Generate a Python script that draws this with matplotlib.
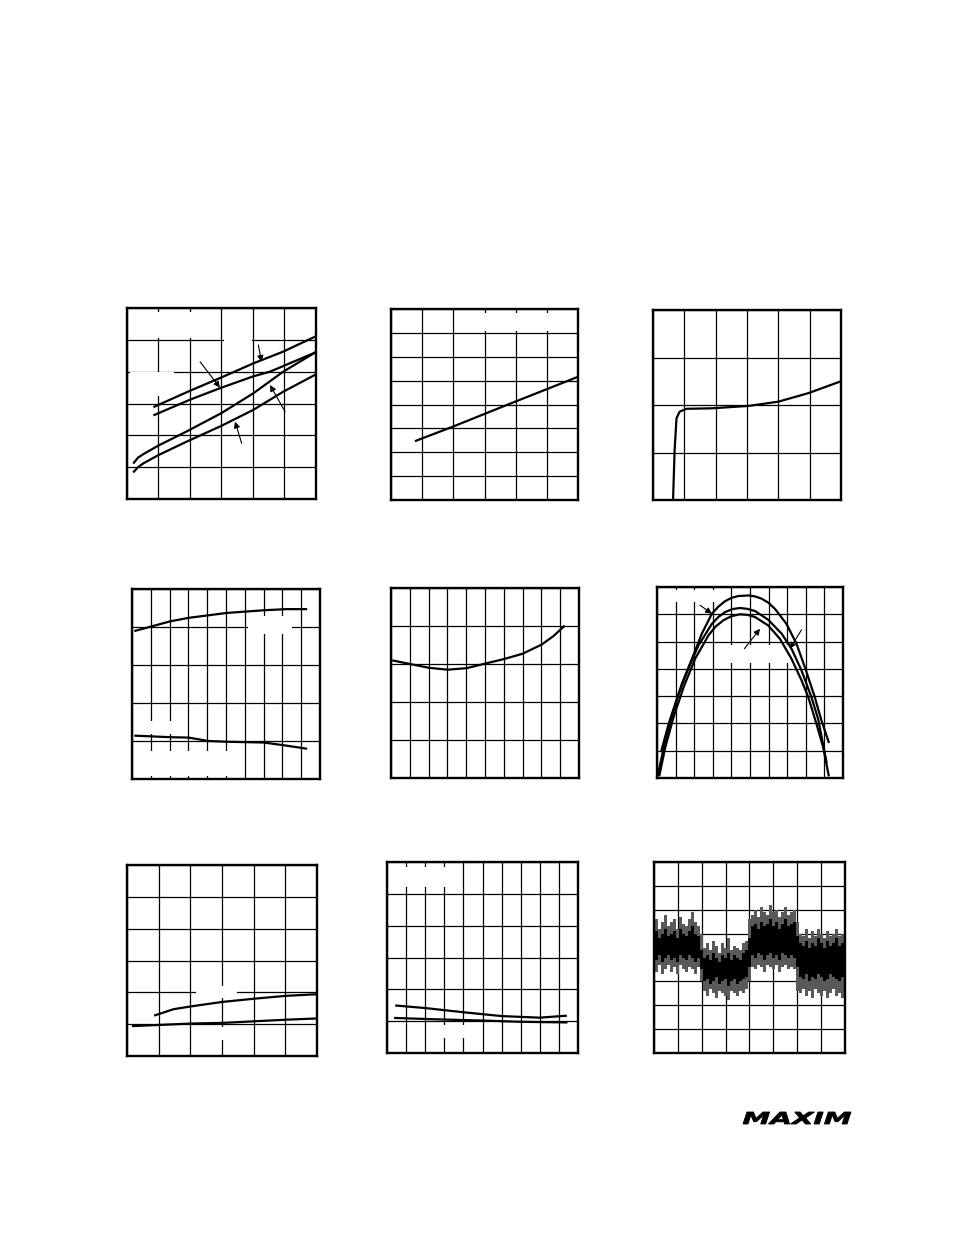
import matplotlib
matplotlib.use("Agg")
import numpy as np
import matplotlib.pyplot as plt
from matplotlib.patches import Rectangle, PathPatch
from matplotlib.textpath import TextPath
from matplotlib.font_manager import FontProperties
from matplotlib.transforms import Affine2D

W, H = 954, 1235

# ---- data (grid-division units, origin at lower left of each plot) ----
# plot 1: four rising curves
p1_xa = [0.87, 2.0, 3.0, 4.01, 4.96, 5.97]
p1_ya = [2.90, 3.40, 3.82, 4.26, 4.63, 5.10]
p1_xb = [0.87, 2.0, 2.95, 4.0, 4.54, 5.97]
p1_yb = [2.64, 3.12, 3.48, 3.85, 4.00, 4.60]
p1_xc = [0.22, 0.35, 0.52, 1.0, 1.89, 3.0, 4.01, 4.96, 5.97]
p1_yc = [1.14, 1.30, 1.41, 1.68, 2.12, 2.70, 3.32, 4.00, 4.60]
p1_xd = [0.22, 0.35, 0.52, 1.0, 1.89, 3.0, 4.01, 4.96, 5.97]
p1_yd = [0.86, 1.00, 1.12, 1.38, 1.80, 2.30, 2.80, 3.37, 3.90]

# plot 2: single straight-ish line
p2_x = [0.8, 2.0, 3.6, 6.0]
p2_y = [2.48, 3.08, 3.92, 5.16]

# plot 3: knee curve
p3_x = [0.64, 0.69, 0.75, 0.85, 1.07, 1.87, 3.04, 4.0, 4.96, 6.0]
p3_y = [0.0, 1.05, 1.72, 1.86, 1.92, 1.93, 1.98, 2.07, 2.25, 2.50]

# plot 4: upper and lower curves
p4_x_up = [0.18, 2.04, 3.0, 5.04, 7.0, 8.2, 9.26]
p4_y_up = [3.90, 4.15, 4.24, 4.37, 4.44, 4.47, 4.47]
p4_x_lo = [0.18, 2.04, 3.0, 4.07, 5.04, 7.0, 8.05, 9.26]
p4_y_lo = [1.14, 1.10, 1.09, 1.00, 0.98, 0.96, 0.89, 0.80]

# plot 5: shallow bowl
p5_x = [0.12, 1.01, 2.02, 3.01, 4.02, 5.0, 6.01, 7.0, 8.01, 8.63, 9.2]
p5_y = [3.09, 3.00, 2.90, 2.85, 2.89, 3.01, 3.13, 3.27, 3.51, 3.73, 3.99]

# plot 6: three arches
p6_x1 = [0.05, 0.45, 0.84, 1.34, 1.88, 2.41, 2.95, 3.30, 3.66, 4.0, 4.38, 4.95,
         5.30, 5.63, 6.0, 6.34, 6.96, 7.5, 7.98, 8.48, 8.84, 9.23]
p6_y1 = [0.13, 1.38, 2.36, 3.46, 4.37, 5.29, 6.02, 6.28, 6.48, 6.60, 6.67, 6.69,
         6.65, 6.57, 6.42, 6.20, 5.65, 4.92, 4.00, 2.97, 2.11, 1.32]
p6_x2 = [0.23, 0.63, 1.16, 1.70, 2.23, 2.95, 3.30, 3.66, 4.05, 4.46, 4.85, 5.27,
         5.98, 6.70, 7.23, 7.77, 8.30, 8.66, 9.11]
p6_y2 = [0.99, 1.99, 3.09, 4.04, 4.86, 5.65, 5.90, 6.08, 6.19, 6.23, 6.20, 6.12,
         5.80, 5.29, 4.74, 3.94, 2.97, 2.17, 0.59]
p6_x3 = [0.13, 0.45, 0.89, 1.43, 2.05, 2.77, 3.15, 3.57, 4.0, 4.46, 4.85, 5.27,
         5.98, 6.61, 7.23, 7.77, 8.13, 8.57, 8.93, 9.23]
p6_y3 = [0.10, 1.14, 2.23, 3.33, 4.37, 5.23, 5.55, 5.78, 5.93, 6.00, 5.98, 5.90,
         5.59, 5.10, 4.37, 3.58, 2.97, 1.99, 1.14, 0.10]

# plot 7: two slowly rising curves
p7_x_up = [0.89, 1.47, 2.03, 3.02, 4.02, 5.02, 6.0]
p7_y_up = [1.28, 1.47, 1.56, 1.70, 1.80, 1.89, 1.94]
p7_x_lo = [0.19, 2.03, 3.02, 4.02, 5.02, 6.0]
p7_y_lo = [0.94, 1.02, 1.04, 1.09, 1.14, 1.18]

# plot 8: two nearly flat curves
p8_x_up = [0.49, 2.03, 4.0, 6.0, 8.0, 9.36]
p8_y_up = [1.49, 1.41, 1.28, 1.16, 1.11, 1.17]
p8_x_lo = [0.43, 3.0, 4.99, 6.99, 9.39]
p8_y_lo = [1.10, 1.05, 1.02, 0.98, 0.96]

# plot 9: noise trace, time base in divisions, envelopes read from scope shot
p9_t = np.linspace(0, 8, 65)
p9_core_hi = [4.9, 5.1, 4.8, 5.0, 5.2, 4.9, 5.0, 5.1, 4.8, 5.2, 5.0, 4.9, 5.1, 5.3, 5.0, 4.9,
              4.3,
              4.0, 4.1, 3.9, 4.2, 4.0, 3.8, 4.1, 4.0, 4.2, 3.9, 4.1, 4.0, 3.9, 4.2, 4.3,
              4.8,
              5.3, 5.4, 5.2, 5.5, 5.3, 5.4, 5.6, 5.3, 5.5, 5.2, 5.4, 5.6, 5.3, 5.4, 5.5,
              4.9,
              4.6, 4.5, 4.7, 4.4, 4.6, 4.5, 4.8, 4.6, 4.4, 4.7, 4.5, 4.6, 4.8, 4.5, 4.6, 4.7]
p9_core_lo = [4.0, 3.9, 4.1, 3.8, 4.0, 4.1, 3.9, 4.0, 3.8, 4.1, 4.0, 3.9, 4.1, 4.0, 3.8, 4.0,
              3.5,
              3.0, 3.1, 2.9, 3.0, 3.2, 2.9, 3.0, 3.1, 2.8, 3.0, 3.1, 2.9, 3.0, 3.1, 3.2,
              3.6,
              4.1, 4.0, 4.2, 4.1, 3.9, 4.1, 4.2, 4.0, 4.1, 3.9, 4.2, 4.1, 4.0, 4.1, 4.0,
              3.6,
              3.2, 3.1, 3.3, 3.0, 3.2, 3.1, 3.3, 3.2, 3.0, 3.1, 3.3, 3.2, 3.1, 3.0, 3.2, 3.1]
p9_peak_hi = [5.4, 5.6, 5.2, 5.5, 5.8, 5.3, 5.5, 5.6, 5.2, 5.7, 5.4, 5.3, 5.6, 5.9, 5.5, 5.3,
              5.0,
              4.4, 4.6, 4.3, 4.7, 4.5, 4.2, 4.6, 4.4, 4.8, 4.3, 4.5, 4.4, 4.3, 4.6, 4.7,
              5.6,
              5.8, 6.0, 5.7, 6.1, 5.9, 5.8, 6.2, 5.9, 6.0, 5.7, 5.9, 6.1, 5.8, 5.9, 6.0,
              5.5,
              5.0, 4.9, 5.2, 4.8, 5.1, 4.9, 5.2, 5.0, 4.8, 5.1, 4.9, 5.0, 5.2, 4.9, 5.0, 5.1]
p9_peak_lo = [3.6, 3.4, 3.7, 3.3, 3.5, 3.7, 3.4, 3.6, 3.3, 3.7, 3.5, 3.4, 3.6, 3.5, 3.3, 3.6,
              3.0,
              2.6, 2.4, 2.7, 2.5, 2.3, 2.6, 2.5, 2.4, 2.2, 2.6, 2.5, 2.4, 2.6, 2.5, 2.7,
              3.0,
              3.6, 3.5, 3.7, 3.6, 3.4, 3.7, 3.6, 3.5, 3.7, 3.4, 3.6, 3.7, 3.5, 3.6, 3.5,
              2.6,
              2.5, 2.7, 2.4, 2.6, 2.3, 2.7, 2.5, 2.4, 2.6, 2.3, 2.5, 2.7, 2.4, 2.5, 2.3, 2.4]

fig = plt.figure(figsize=(W / 100, H / 100), dpi=100)


def make_ax(box, nx, ny):
    x0, y0, x1, y1 = box
    ax = fig.add_axes([x0 / W, 1 - y1 / H, (x1 - x0) / W, (y1 - y0) / H])
    ax.set_xlim(0, nx)
    ax.set_ylim(0, ny)
    ax.set_xticks(range(nx + 1))
    ax.set_yticks(range(ny + 1))
    ax.grid(True, color="black", lw=0.9)
    ax.set_axisbelow(True)
    ax.tick_params(length=0, labelbottom=False, labelleft=False)
    for s in ax.spines.values():
        s.set_linewidth(1.7)
    return ax


def blank(ax, box):
    # white label areas that break the grid
    x0, y0, x1, y1 = box
    ax.add_patch(Rectangle((x0 / W, 1 - y1 / H), (x1 - x0) / W, (y1 - y0) / H,
                           transform=fig.transFigure, fc="white", ec="none", zorder=1))


def arrow(ax, tail, head):
    ax.annotate("", xy=head, xytext=tail,
                arrowprops=dict(arrowstyle="-|>", color="black", lw=0.8,
                                mutation_scale=9, shrinkA=0, shrinkB=0))


LW = 1.6

# row 1
ax1 = make_ax((127, 308, 316, 499), 6, 6)
for xs, ys in [(p1_xa, p1_ya), (p1_xb, p1_yb), (p1_xc, p1_yc), (p1_xd, p1_yd)]:
    ax1.plot(xs, ys, color="black", lw=LW)
arrow(ax1, (4.17, 4.84), (4.27, 4.31))
arrow(ax1, (2.32, 4.31), (2.95, 3.50))
arrow(ax1, (5.02, 2.74), (4.54, 3.58))
arrow(ax1, (3.64, 1.75), (3.43, 2.43))
blank(ax1, (130, 312, 220, 338))
blank(ax1, (130, 372, 174, 396))
blank(ax1, (224, 330, 252, 352))

ax2 = make_ax((391, 309, 578, 500), 6, 8)
ax2.plot(p2_x, p2_y, color="black", lw=LW)
blank(ax2, (456, 313, 576, 331))

ax3 = make_ax((653, 310, 841, 500), 6, 4)
ax3.plot(p3_x, p3_y, color="black", lw=LW)

# row 2
ax4 = make_ax((132, 589, 320, 779), 10, 5)
ax4.plot(p4_x_up, p4_y_up, color="black", lw=LW)
ax4.plot(p4_x_lo, p4_y_lo, color="black", lw=LW)
blank(ax4, (248, 616, 292, 634))
blank(ax4, (134, 721, 180, 734))
blank(ax4, (134, 751, 233, 776))

ax5 = make_ax((391, 588, 579, 778), 10, 5)
ax5.plot(p5_x, p5_y, color="black", lw=LW)

ax6 = make_ax((657, 587, 843, 778), 10, 7)
for xs, ys in [(p6_x1, p6_y1), (p6_x2, p6_y2), (p6_x3, p6_y3)]:
    ax6.plot(xs, ys, color="black", lw=LW)
arrow(ax6, (2.32, 6.33), (2.95, 6.02))
arrow(ax6, (4.70, 4.74), (5.54, 5.47))
arrow(ax6, (7.77, 5.43), (7.14, 4.74))
blank(ax6, (660, 590, 715, 602))
blank(ax6, (725, 645, 800, 663))

# row 3
ax7 = make_ax((127, 865, 317, 1056), 6, 6)
ax7.plot(p7_x_up, p7_y_up, color="black", lw=LW)
ax7.plot(p7_x_lo, p7_y_lo, color="black", lw=LW)
blank(ax7, (196, 986, 237, 998))
blank(ax7, (215, 1027, 230, 1040))

ax8 = make_ax((387, 862, 578, 1053), 10, 6)
ax8.plot(p8_x_up, p8_y_up, color="black", lw=LW)
ax8.plot(p8_x_lo, p8_y_lo, color="black", lw=LW)
blank(ax8, (392, 867, 447, 887))
blank(ax8, (430, 1025, 467, 1038))

ax9 = make_ax((654, 862, 845, 1053), 8, 8)
ax9.fill_between(p9_t, p9_peak_lo, p9_peak_hi, step="mid", color="0.35", lw=0, zorder=2)
ax9.fill_between(p9_t, p9_core_lo, p9_core_hi, step="mid", color="black", lw=0, zorder=2)

# MAXIM logo
tp = TextPath((0, 0), "MAXIM", size=10,
              prop=FontProperties(family="DejaVu Sans", weight="bold", style="italic"))
bb = tp.get_extents()
tr = (Affine2D().translate(-bb.x0, -bb.y0)
      .scale(108 / bb.width, 12 / bb.height)
      .translate(743, H - 1124))
fig.add_artist(PathPatch(tp, transform=tr, fc="black", ec="black", lw=0.6))

fig.savefig("out.png", dpi=100)
